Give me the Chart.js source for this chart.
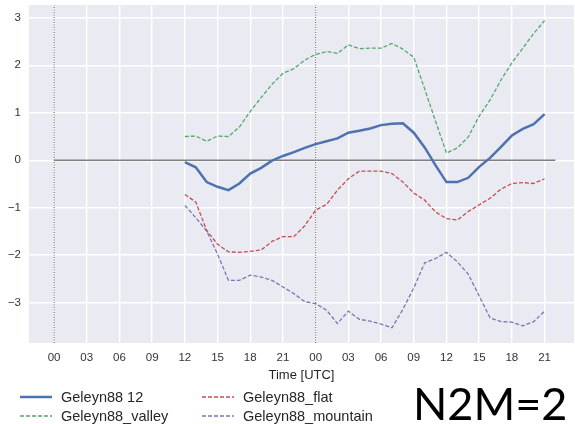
<!DOCTYPE html>
<html>
<head>
<meta charset="utf-8">
<script src="https://cdn.jsdelivr.net/npm/chart.js@4.4.1/dist/chart.umd.min.js"></script>
<style>
  body { margin: 0; width: 575px; height: 424px; overflow: hidden; background: #fff; position: relative; font-family: "Liberation Sans", Arial, sans-serif; }
  #chart { position: absolute; left: 0; top: 0; }
  .leg { position: absolute; height: 18px; display: flex; align-items: center; font-size: 14.5px; color: #262626; white-space: nowrap; }
  .leg svg { margin-right: 9px; }
  #n2m { position: absolute; left: 413px; top: 381px; font-family: Lato, "Open Sans", sans-serif; font-size: 45px; line-height: 1; color: #000; }
</style>
</head>
<body>
<canvas id="chart" width="575" height="424"></canvas>
<div id="legend"></div>
<div id="n2m">N2M=2</div>
<script>
// hours since start (00 UTC of day 1)
const hours = [12, 13, 14, 15, 16, 17, 18, 19, 20, 21, 22, 23, 24, 25, 26, 27, 28,
               29, 30, 31, 32, 33, 34, 35, 36, 37, 38, 39, 40, 41, 42, 43, 44, 45];

const geleyn12 = [-0.04, -0.15, -0.46, -0.56, -0.63, -0.49, -0.28, -0.16, -0.01, 0.09, 0.17, 0.26, 0.34, 0.40, 0.46, 0.58, 0.62,
                  0.67, 0.74, 0.77, 0.78, 0.58, 0.27, -0.11, -0.46, -0.46, -0.37, -0.14, 0.05, 0.28, 0.52, 0.66, 0.76, 0.97];
const geleynValley = [0.50, 0.51, 0.40, 0.51, 0.50, 0.70, 1.03, 1.32, 1.60, 1.83, 1.93, 2.11, 2.23, 2.29, 2.25, 2.43, 2.35,
                      2.36, 2.36, 2.46, 2.34, 2.17, 1.50, 0.82, 0.15, 0.26, 0.49, 0.93, 1.27, 1.69, 2.05, 2.36, 2.67, 2.94];
const geleynFlat = [-0.72, -0.88, -1.48, -1.77, -1.93, -1.94, -1.92, -1.89, -1.71, -1.61, -1.61, -1.38, -1.05, -0.93, -0.63, -0.39, -0.23,
                    -0.23, -0.23, -0.28, -0.46, -0.69, -0.84, -1.09, -1.23, -1.26, -1.08, -0.94, -0.80, -0.61, -0.49, -0.47, -0.49, -0.39];
const geleynMountain = [-0.95, -1.21, -1.49, -1.98, -2.53, -2.53, -2.42, -2.46, -2.53, -2.67, -2.81, -2.98, -3.02, -3.16, -3.44, -3.18, -3.35,
                        -3.39, -3.45, -3.53, -3.14, -2.69, -2.16, -2.07, -1.94, -2.14, -2.40, -2.86, -3.32, -3.40, -3.41, -3.49, -3.40, -3.18];

const xTickHours = [0, 3, 6, 9, 12, 15, 18, 21, 24, 27, 30, 33, 36, 39, 42, 45];
const yTicks = [-3, -2, -1, 0, 1, 2, 3];
const dayMarks = [0, 24];
const zeroLineHours = [0, 46];

const xMin = -2.3, xMax = 47.7;
const yMin = -3.85, yMax = 3.27;

const toPoints = vals => hours.map((h, i) => ({ x: h, y: vals[i] }));

const series = [
    { label: 'Geleyn88 12', data: geleyn12, color: '#4C72B0', width: 2.5, dash: [], col: 0, row: 0 },
    { label: 'Geleyn88_valley', data: geleynValley, color: '#55A868', width: 1.3, dash: [4, 2], col: 0, row: 1 },
    { label: 'Geleyn88_flat', data: geleynFlat, color: '#C44E52', width: 1.3, dash: [4, 2], col: 1, row: 0 },
    { label: 'Geleyn88_mountain', data: geleynMountain, color: '#8172B2', width: 1.3, dash: [4, 2], col: 1, row: 1 }
];

const datasets = series.map((s, i) => ({
    label: s.label,
    data: toPoints(s.data),
    borderColor: s.color,
    borderWidth: s.width,
    borderDash: s.dash,
    pointRadius: 0,
    tension: 0,
    fill: false,
    order: i
}));

// helper lines: zero line and day separators
datasets.push({
    label: 'zero',
    data: zeroLineHours.map(h => ({ x: h, y: 0 })),
    borderColor: '#808080',
    borderWidth: 1.5,
    pointRadius: 0,
    order: 10
});
dayMarks.forEach(h => {
    datasets.push({
        label: 'day' + h,
        data: [{ x: h, y: yMin }, { x: h, y: yMax }],
        borderColor: '#555',
        borderWidth: 1,
        borderDash: [1, 1.5],
        pointRadius: 0,
        order: 11
    });
});

const plotBg = {
    id: 'plotBg',
    beforeDraw(chart) {
        const { ctx, chartArea: a } = chart;
        ctx.save();
        ctx.fillStyle = '#EAEAF2';
        ctx.fillRect(a.left, a.top, a.right - a.left, a.bottom - a.top);
        ctx.restore();
    }
};

const tickFont = { family: '"Liberation Sans", Arial, sans-serif', size: 11.5 };

const chart = new Chart(document.getElementById('chart').getContext('2d'), {
    type: 'line',
    data: { datasets },
    plugins: [plotBg],
    options: {
        responsive: false,
        devicePixelRatio: 1,
        animation: false,
        layout: { padding: { left: 0, top: 5, right: 1, bottom: 40.5 } },
        plugins: { legend: { display: false }, tooltip: { enabled: false } },
        scales: {
            x: {
                type: 'linear',
                min: xMin,
                max: xMax,
                afterBuildTicks: s => { s.ticks = xTickHours.map(v => ({ value: v })); },
                afterFit: s => { s.height = 40.5; s.paddingLeft = 0; s.paddingRight = 0; },
                ticks: {
                    color: '#333',
                    font: tickFont,
                    padding: 8,
                    maxRotation: 0,
                    autoSkip: false,
                    callback: v => String(v % 24).padStart(2, '0')
                },
                grid: { color: '#FFFFFF', lineWidth: 1.4, drawTicks: false },
                border: { display: false },
                title: { display: true, text: 'Time [UTC]', color: '#262626', padding: 0,
                         font: { family: '"Liberation Sans", Arial, sans-serif', size: 13 } }
            },
            y: {
                min: yMin,
                max: yMax,
                afterBuildTicks: s => { s.ticks = yTicks.map(v => ({ value: v })); },
                afterFit: s => { s.width = 29; s.paddingTop = 0; s.paddingBottom = 0; },
                ticks: {
                    color: '#333',
                    font: tickFont,
                    padding: 8,
                    callback: v => v < 0 ? '\u2212' + Math.abs(v) : String(v)
                },
                grid: { color: '#FFFFFF', lineWidth: 1.4, drawTicks: false },
                border: { display: false }
            }
        }
    }
});

// legend in two columns below the plot
const legendCols = [20, 202];
const legendRows = [388, 407];
const legendBox = document.getElementById('legend');
series.forEach(s => {
    const item = document.createElement('div');
    item.className = 'leg';
    item.style.left = legendCols[s.col] + 'px';
    item.style.top = legendRows[s.row] + 'px';
    const dash = s.dash.length ? `stroke-dasharray="${s.dash.join(' ')}"` : '';
    item.innerHTML = `<svg width="32" height="10"><line x1="0" y1="5" x2="32" y2="5" stroke="${s.color}" stroke-width="${s.width}" ${dash}/></svg><span>${s.label}</span>`;
    legendBox.appendChild(item);
});
</script>
</body>
</html>
